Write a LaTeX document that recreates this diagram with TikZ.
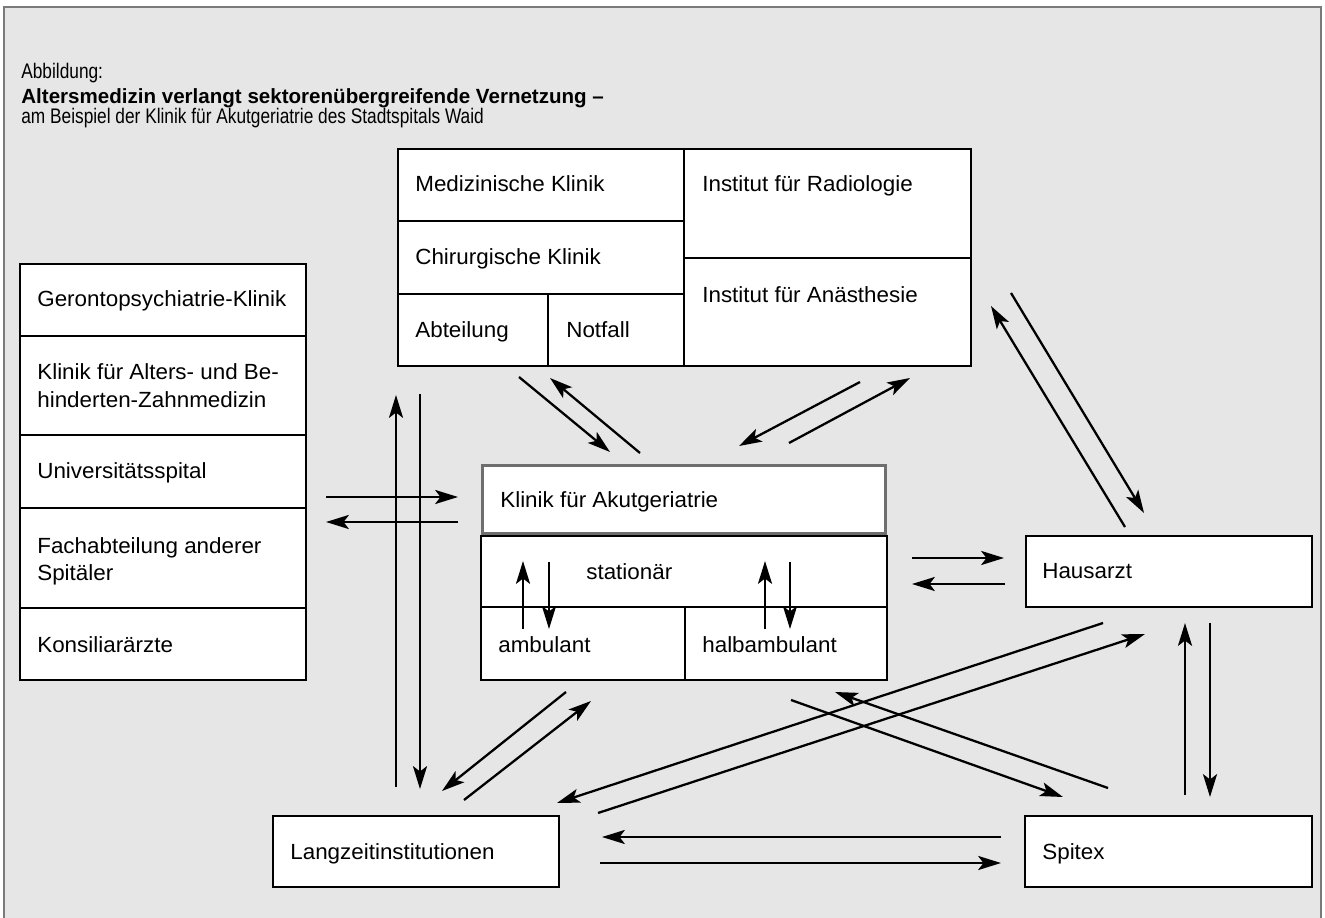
\documentclass[tikz,border=0pt]{standalone}
\usepackage{fontspec}
\setmainfont{Liberation Sans}
\newfontfamily\condfont[FakeStretch=0.82]{Liberation Sans}
\newfontfamily\cellfont[FakeStretch=1.02]{Liberation Sans}
\usetikzlibrary{arrows.meta}

\definecolor{panelgray}{HTML}{E6E6E6}
\definecolor{framegray}{HTML}{7A7A7A}
\definecolor{keygray}{HTML}{6E6E6E}

\newcommand\boxfont{\cellfont\fontsize{12.5}{15.4}\selectfont}
% a white cell given by its corners (x1,y1) (x2,y2) in pixel units
\newcommand\cell[6][cellbox]{%
  \node[#1, minimum width={(#5-#3)*0.02cm}, minimum height={(#6-#4)*0.02cm}]
    (#2) at ({(#3+#5)/2},{(#4+#6)/2}) {};}
% a floating arrow between two named end points
\newcommand\flowarrow[5]{%
  \coordinate (#1-s) at (#2,#3);
  \coordinate (#1-e) at (#4,#5);
  \draw[flow] (#1-s) -- (#1-e);}
\newcommand\twolines[2]{\vtop{\hbox{#1}\hbox{#2}}}

\begin{document}
\begin{tikzpicture}[x=0.02cm, y=-0.02cm,
  cellbox/.style={draw=black, line width=0.75pt, fill=white, inner sep=0pt, outer sep=0pt},
  keybox/.style={draw=keygray, line width=1.8pt, fill=white, inner sep=0pt, outer sep=0pt},
  lbl/.style={anchor=base west, inner sep=0pt, font=\boxfont},
  flow/.style={line width=1.3pt, -{Stealth[length=13pt,width=8pt,inset=3pt]}},
]
\useasboundingbox (0,0) rectangle (1325,918);
\fill[white] (0,0) rectangle (1325,918);
\draw[draw=framegray, line width=1.3pt, fill=panelgray] (4,7) rectangle (1321,940);

% heading
\node[anchor=base west, inner sep=0pt, font=\condfont\fontsize{12}{14}\selectfont] (head1) at (21,79) {Abbildung:};
\node[anchor=base west, inner sep=0pt, font=\bfseries\fontsize{11.7}{14}\selectfont] (head2) at (21,104) {Altersmedizin verlangt sektorenübergreifende Vernetzung –};
\node[anchor=base west, inner sep=0pt, font=\condfont\fontsize{12}{14}\selectfont] (head3) at (21,124) {am Beispiel der Klinik für Akutgeriatrie des Stadtspitals Waid};

% hospital clinics (top)
\cell{med}{398}{149}{684}{221}
\cell{chir}{398}{221}{684}{294}
\cell{abt}{398}{294}{548}{366}
\cell{notf}{548}{294}{684}{366}
\cell{rad}{684}{149}{971}{258}
\cell{anae}{684}{258}{971}{366}
\node[lbl] (tmed) at (415,192) {Medizinische Klinik};
\node[lbl] (tchir) at (415,265) {Chirurgische Klinik};
\node[lbl] (tabt) at (415,338) {Abteilung};
\node[lbl] (tnotf) at (566,338) {Notfall};
\node[lbl] (trad) at (702,192) {Institut für Radiologie};
\node[lbl] (tanae) at (702,303) {Institut für Anästhesie};

% external partners (left)
\cell{ger}{20}{264}{306}{336}
\cell{zahn}{20}{336}{306}{435}
\cell{uni}{20}{435}{306}{508}
\cell{fach}{20}{508}{306}{608}
\cell{kons}{20}{608}{306}{680}
\node[lbl] (tger) at (37,307) {Gerontopsychiatrie-Klinik};
\node[lbl] (tzahn) at (37,380) {\twolines{Klinik für Alters- und Be-}{hinderten-Zahnmedizin}};
\node[lbl] (tuni) at (37,479) {Universitätsspital};
\node[lbl] (tfach) at (37,553) {\twolines{Fachabteilung anderer}{Spitäler}};
\node[lbl] (tkons) at (37,652) {Konsiliarärzte};

% acute geriatrics clinic (centre)
\cell{stat}{481}{536}{887}{607}
\cell{amb}{481}{607}{685}{680}
\cell{halb}{685}{607}{887}{680}
\node[keybox, minimum width={(885.5-482.5)*0.02cm}, minimum height={(533.5-465.5)*0.02cm}]
  (akut) at ({(481+887)/2},{(464+535)/2}) {};
\node[lbl] (takut) at (500,508) {Klinik für Akutgeriatrie};
\node[lbl] (tstat) at (586,580) {stationär};
\node[lbl] (tamb) at (498,652) {ambulant};
\node[lbl] (thalb) at (702,652) {halbambulant};

% other partners
\cell{haus}{1026}{536}{1312}{607}
\cell{lang}{273}{816}{559}{887}
\cell{spi}{1025}{816}{1312}{887}
\node[lbl] (thaus) at (1042,579) {Hausarzt};
\node[lbl] (tlang) at (290,859) {Langzeitinstitutionen};
\node[lbl] (tspi) at (1042,859) {Spitex};

% flows inside the clinic
\flowarrow{sa1}{523}{629}{523}{561}
\flowarrow{sa2}{549}{562}{549}{629}
\flowarrow{sh1}{765}{629}{765}{561}
\flowarrow{sh2}{790}{562}{790}{629}

% flows to the left partners
\flowarrow{lv1}{396}{787}{396}{395}
\flowarrow{lv2}{420}{394}{420}{789}
\flowarrow{lh1}{326}{497}{458}{497}
\flowarrow{lh2}{458}{522}{326}{522}

% flows to the top clinics
\flowarrow{tl1}{519}{377}{610}{452}
\flowarrow{tl2}{640}{453}{550}{378}
\flowarrow{tr1}{860}{382}{739}{446}
\flowarrow{tr2}{789}{443}{910}{378}

% flows with the general practitioner
\flowarrow{hd1}{1011}{293}{1144}{513}
\flowarrow{hd2}{1125}{527}{991}{306}
\flowarrow{hh1}{912}{558}{1004}{558}
\flowarrow{hh2}{1005}{584}{912}{584}
\flowarrow{hv1}{1185}{795}{1185}{623}
\flowarrow{hv2}{1210}{623}{1210}{797}
\flowarrow{hl1}{1103}{623}{557}{803}
\flowarrow{hl2}{598}{813}{1145}{634}

% flows with long-term care and home care
\flowarrow{cs1}{791}{700}{1063}{797}
\flowarrow{cs2}{1108}{788}{835}{692}
\flowarrow{cl1}{566}{692}{442}{791}
\flowarrow{cl2}{464}{800}{591}{701}
\flowarrow{ls1}{1001}{837}{602}{837}
\flowarrow{ls2}{600}{863}{1001}{863}
\end{tikzpicture}
\end{document}
